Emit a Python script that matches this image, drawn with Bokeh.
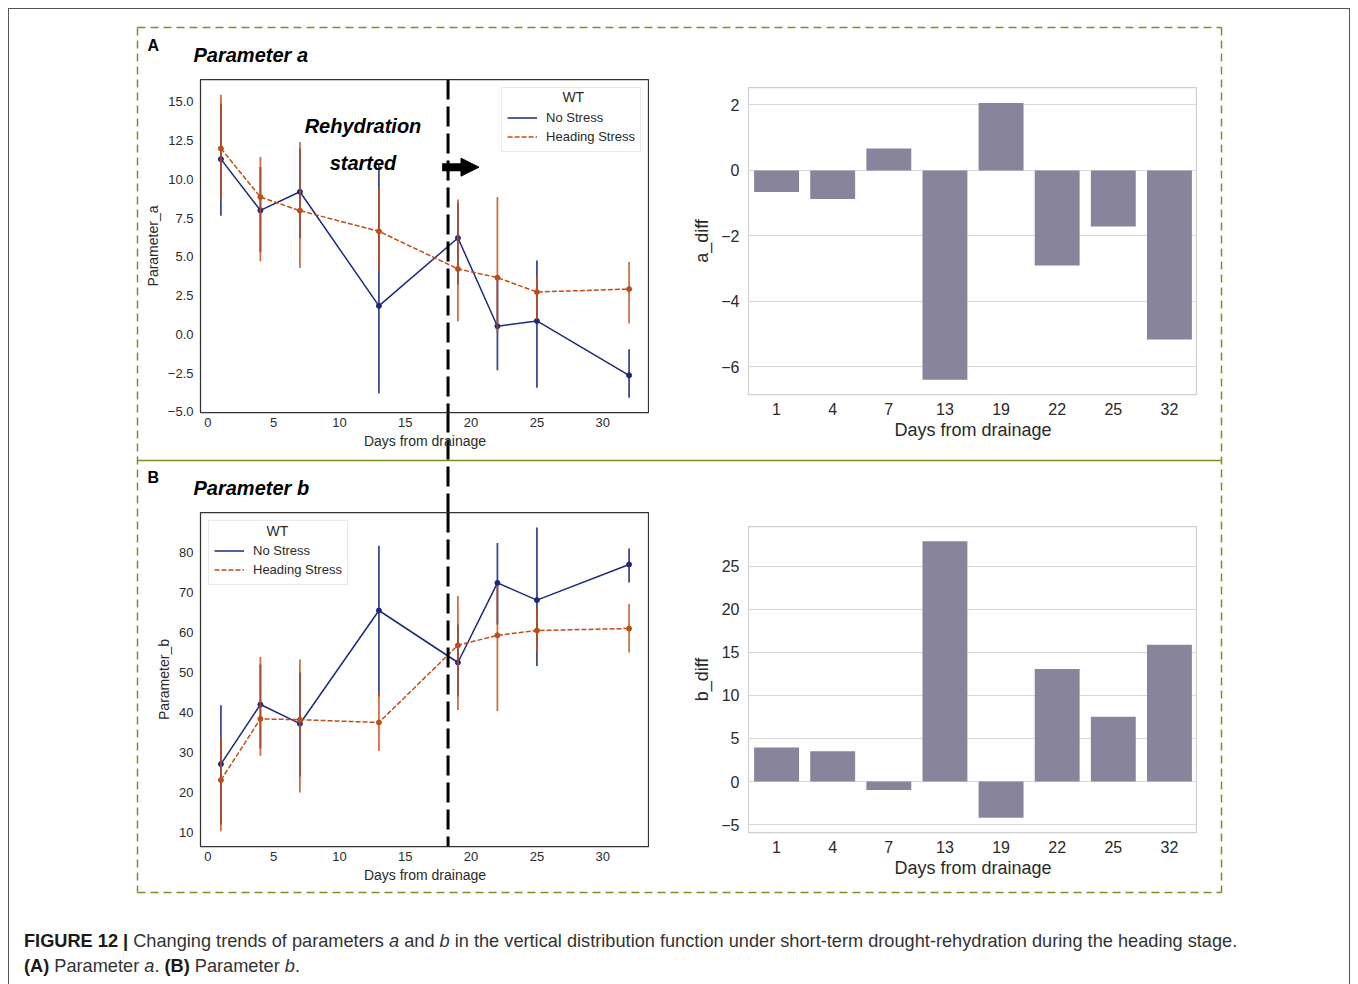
from bokeh.plotting import figure
from bokeh.models import (Range1d, FactorRange, FixedTicker, CustomJSTickFormatter, Legend,
                          LegendItem, Label, Span, Arrow, NormalHead, Div)
from bokeh.layouts import column
from bokeh.embed import file_html
from bokeh.resources import INLINE

# ---------------- data ----------------
days = [1, 4, 7, 13, 19, 22, 25, 32]
day_labels = ["1", "4", "7", "13", "19", "22", "25", "32"]

a_ns = [11.31, 8.0, 9.2, 1.83, 6.22, 0.52, 0.86, -2.65]
a_ns_lo = [7.66, 5.3, 6.2, -3.83, 3.2, -2.32, -3.45, -4.1]
a_ns_hi = [14.9, 10.8, 12.0, 10.95, 8.5, 3.6, 4.77, -0.97]
a_hs = [12.0, 8.86, 7.98, 6.65, 4.22, 3.66, 2.73, 2.92]
a_hs_lo = [8.75, 4.71, 4.28, 4.13, 0.84, 0.05, 0.95, 0.69]
a_hs_hi = [15.46, 11.44, 12.41, 9.5, 8.71, 8.86, 3.75, 4.67]

b_ns = [27.1, 42.0, 37.2, 65.5, 52.5, 72.4, 68.1, 77.0]
b_ns_lo = [12.0, 31.0, 24.0, 44.0, 44.0, 62.0, 51.6, 72.5]
b_ns_hi = [41.8, 52.0, 50.0, 81.7, 62.0, 82.4, 86.25, 81.0]
b_hs = [23.1, 38.4, 38.2, 37.5, 56.8, 59.3, 60.5, 61.0]
b_hs_lo = [10.3, 29.2, 20.0, 30.4, 40.6, 40.4, 55.3, 55.0]
b_hs_hi = [33.9, 53.9, 53.25, 45.4, 69.1, 71.8, 66.0, 67.1]

a_diff = [-0.66, -0.87, 0.67, -6.39, 2.06, -2.9, -1.71, -5.16]
b_diff = [3.94, 3.52, -0.97, 27.9, -4.21, 13.06, 7.53, 15.88]

rehydration_day = 18.25
series_names = ["No Stress", "Heading Stress"]

# ---------------- style ----------------
FONT = "Liberation Sans"
TXT = "#2a2a2a"
NS_COLOR = "#1c2a7c"
HS_COLOR = "#c04d17"
BAR_COLOR = "#88849b"
OLIVE = "#7d8e24"
MINUS = "\u2212"
LB = 75   # common left border of every figure (keeps column alignment a no-op)


def fmt(decimals):
    return CustomJSTickFormatter(
        code="return tick.toFixed(%d).replace('-', '%s');" % (decimals, MINUS))


def base_axes(p, tick_size, label_size):
    p.axis.major_tick_out = 0
    p.axis.major_tick_in = 0
    p.axis.minor_tick_out = 0
    p.axis.minor_tick_in = 0
    p.axis.axis_line_color = None
    p.axis.major_label_text_font = FONT
    p.axis.major_label_text_font_size = tick_size
    p.axis.major_label_text_color = TXT
    p.axis.axis_label_text_font = FONT
    p.axis.axis_label_text_font_size = label_size
    p.axis.axis_label_text_font_style = "normal"
    p.axis.axis_label_text_color = TXT


def line_panel(ns, ns_lo, ns_hi, hs, hs_lo, hs_hi, yr, yticks, ydec, ylabel,
               frame_h, legend_loc, wt_xy):
    p = figure(width=LB + 449, height=10 + frame_h + 50,
               x_range=Range1d(-0.55, 33.55), y_range=Range1d(*yr),
               output_backend="svg", toolbar_location=None,
               min_border_left=LB, min_border_right=0,
               min_border_top=10, min_border_bottom=50)
    p.border_fill_color = None
    p.background_fill_color = "white"
    p.outline_line_color = "#333333"
    p.outline_line_width = 1.25
    p.grid.visible = False
    base_axes(p, "13px", "14px")
    p.xaxis.ticker = FixedTicker(ticks=[0, 5, 10, 15, 20, 25, 30])
    p.xaxis.formatter = fmt(0)
    p.yaxis.ticker = FixedTicker(ticks=yticks)
    p.yaxis.formatter = fmt(ydec)
    p.xaxis.major_label_standoff = 5
    p.yaxis.major_label_standoff = 7
    p.xaxis.axis_label = "Days from drainage"
    p.xaxis.axis_label_standoff = 3
    p.yaxis.axis_label = ylabel
    p.yaxis.axis_label_standoff = 4

    l_ns = p.line(days, ns, line_color=NS_COLOR, line_width=1.5)
    p.scatter(days, ns, size=5, color=NS_COLOR)
    p.segment(days, ns_lo, days, ns_hi, line_color=NS_COLOR, line_width=1.8, line_alpha=0.85)
    l_hs = p.line(days, hs, line_color=HS_COLOR, line_width=1.5, line_dash="5 2")
    p.scatter(days, hs, size=5, color=HS_COLOR)
    p.segment(days, hs_lo, days, hs_hi, line_color=HS_COLOR, line_width=1.8, line_alpha=0.8)

    p.add_layout(Span(location=rehydration_day, dimension="height", line_color="black",
                      line_width=3, line_dash="20 7"))

    leg = Legend(items=[LegendItem(label=series_names[0], renderers=[l_ns]),
                        LegendItem(label=series_names[1], renderers=[l_hs])],
                 location=legend_loc, title=" ")
    leg.title_text_font_size = "13px"
    leg.title_standoff = 0
    leg.label_text_font = FONT
    leg.label_text_font_size = "13px"
    leg.label_text_color = TXT
    leg.glyph_width = 30
    leg.glyph_height = 19
    leg.label_height = 19
    leg.label_standoff = 9
    leg.padding = 5
    leg.spacing = 0
    leg.margin = 8
    leg.border_line_color = "#d4d4d4"
    leg.border_line_width = 1
    leg.background_fill_alpha = 0
    p.add_layout(leg)
    p.add_layout(Label(x=wt_xy[0], y=wt_xy[1], text="WT", text_align="center",
                       text_baseline="middle", text_font=FONT, text_font_size="14px",
                       text_color=TXT, level="overlay"))
    return p


def bar_panel(vals, yr, yticks, ylabel, frame_h):
    p = figure(width=LB + 449, height=10 + frame_h + 60,
               x_range=FactorRange(factors=day_labels, range_padding=0),
               y_range=Range1d(*yr), output_backend="svg", toolbar_location=None,
               min_border_left=LB, min_border_right=0,
               min_border_top=10, min_border_bottom=60)
    p.border_fill_color = None
    p.background_fill_color = "white"
    p.outline_line_color = "#cfcfcf"
    p.outline_line_width = 1.25
    p.xgrid.visible = False
    p.ygrid.grid_line_color = "#d9d9d9"
    p.ygrid.grid_line_width = 1
    base_axes(p, "16px", "18px")
    p.yaxis.ticker = FixedTicker(ticks=yticks)
    p.yaxis.formatter = fmt(0)
    p.xaxis.major_label_standoff = 8
    p.yaxis.major_label_standoff = 9
    p.xaxis.axis_label = "Days from drainage"
    p.xaxis.axis_label_standoff = 2
    p.yaxis.axis_label = ylabel
    p.yaxis.axis_label_standoff = 6
    p.vbar(x=day_labels, top=vals, bottom=0, width=0.8, fill_color=BAR_COLOR,
           line_color=None)
    return p


# ---------------- panels ----------------
pa1 = line_panel(a_ns, a_ns_lo, a_ns_hi, a_hs, a_hs_lo, a_hs_hi, (-5.05, 16.45),
                 [-5, -2.5, 0, 2.5, 5, 7.5, 10, 12.5, 15], 1, "Parameter_a", 333,
                 "top_right", (27.76, 15.3))
pa1.add_layout(Label(x=11.79, y=13.45, text="Rehydration", text_align="center",
                     text_baseline="middle", text_font=FONT, text_font_size="20px",
                     text_font_style="bold italic", text_color="black"))
pa1.add_layout(Label(x=11.79, y=11.05, text="started", text_align="center",
                     text_baseline="middle", text_font=FONT, text_font_size="20px",
                     text_font_style="bold italic", text_color="black"))
pa1.add_layout(Arrow(end=NormalHead(size=18, fill_color="black", line_color="black",
                                    line_width=1),
                     x_start=17.8, y_start=10.79, x_end=20.6, y_end=10.79,
                     line_width=8, line_color="black"))

pb1 = line_panel(b_ns, b_ns_lo, b_ns_hi, b_hs, b_hs_lo, b_hs_hi, (6.5, 90.0),
                 [10, 20, 30, 40, 50, 60, 70, 80], 0, "Parameter_b", 334,
                 "top_left", (5.29, 85.3))

pa2 = bar_panel(a_diff, (-6.84, 2.53), [-6, -4, -2, 0, 2], "a_diff", 307)
pb2 = bar_panel(b_diff, (-5.91, 29.6), [-5, 0, 5, 10, 15, 20, 25], "b_diff", 306)

# ---------------- page background (frames, panel letters) ----------------
# page coordinates: x 0..1342, y 0..976 (downwards); frame covers page x 75..1342
bg = figure(width=1342, height=976, x_range=Range1d(LB, 1342), y_range=Range1d(976, 0),
            x_axis_type=None, y_axis_type=None, min_border=0, min_border_left=LB,
            output_backend="svg", toolbar_location=None)
bg.grid.visible = False
bg.outline_line_color = None
bg.background_fill_color = "white"
bg.border_fill_color = None
bg.multi_line([[129, 1213], [129, 129], [1213, 1213], [129, 1213]],
              [[19, 19], [19, 884], [19, 884], [884, 884]],
              line_color=OLIVE, line_width=1.5, line_dash="8 5")
bg.line([129, 1213], [452, 452], line_color=OLIVE, line_width=1.5)
# continuation of the rehydration marker between the two left panels
bg.line([439.5, 439.5], [404, 504], line_color="black", line_width=3, line_dash="20 7")
for txt, x, y, size, style in [("A", 139, 36.5, "16px", "bold"),
                               ("Parameter a", 185, 46.5, "20px", "bold italic"),
                               ("B", 139, 469, "16px", "bold"),
                               ("Parameter b", 185, 479.5, "20px", "bold italic")]:
    bg.add_layout(Label(x=x, y=y, text=txt, text_align="left", text_baseline="middle",
                        text_font=FONT, text_font_size=size, text_font_style=style,
                        text_color="black"))

frame_box = Div(text="", width=1342, height=976, margin=0)

caption = Div(
    text=('<div style="font-family:\'Liberation Sans\',Arial,sans-serif;font-size:18.2px;'
          'line-height:25px;color:#333;white-space:nowrap;">'
          '<b style="color:#1a1a1a">FIGURE 12 |</b> Changing trends of parameters <i>a</i> and '
          '<i>b</i> in the vertical distribution function under short-term drought-rehydration '
          'during the heading stage.<br><b style="color:#1a1a1a">(A)</b> Parameter <i>a</i>. '
          '<b style="color:#1a1a1a">(B)</b> Parameter <i>b</i>.</div>'),
    width=1310, height=54)


def place(obj, left, top, extra=None):
    # positions are viewport (screen) coordinates
    st = {"position": "absolute", "left": "%dpx" % left, "top": "%dpx" % top}
    if extra:
        st.update(extra)
    obj.styles = st


place(bg, 8, 8)
place(frame_box, 8, 8, {"border-top": "1.5px solid #555", "border-left": "1.5px solid #555",
                        "border-right": "1.5px solid #555", "box-sizing": "border-box"})
place(pa1, 200 - LB, 69)
place(pa2, 748 - LB, 77)
place(pb1, 200 - LB, 502)
place(pb2, 748 - LB, 516)
place(caption, 19, 924)

root = column(bg, frame_box, pa1, pa2, pb1, pb2, caption, width=1342, height=976,
              styles={"position": "relative"})

open("out.html", "w").write(file_html(root, INLINE))
